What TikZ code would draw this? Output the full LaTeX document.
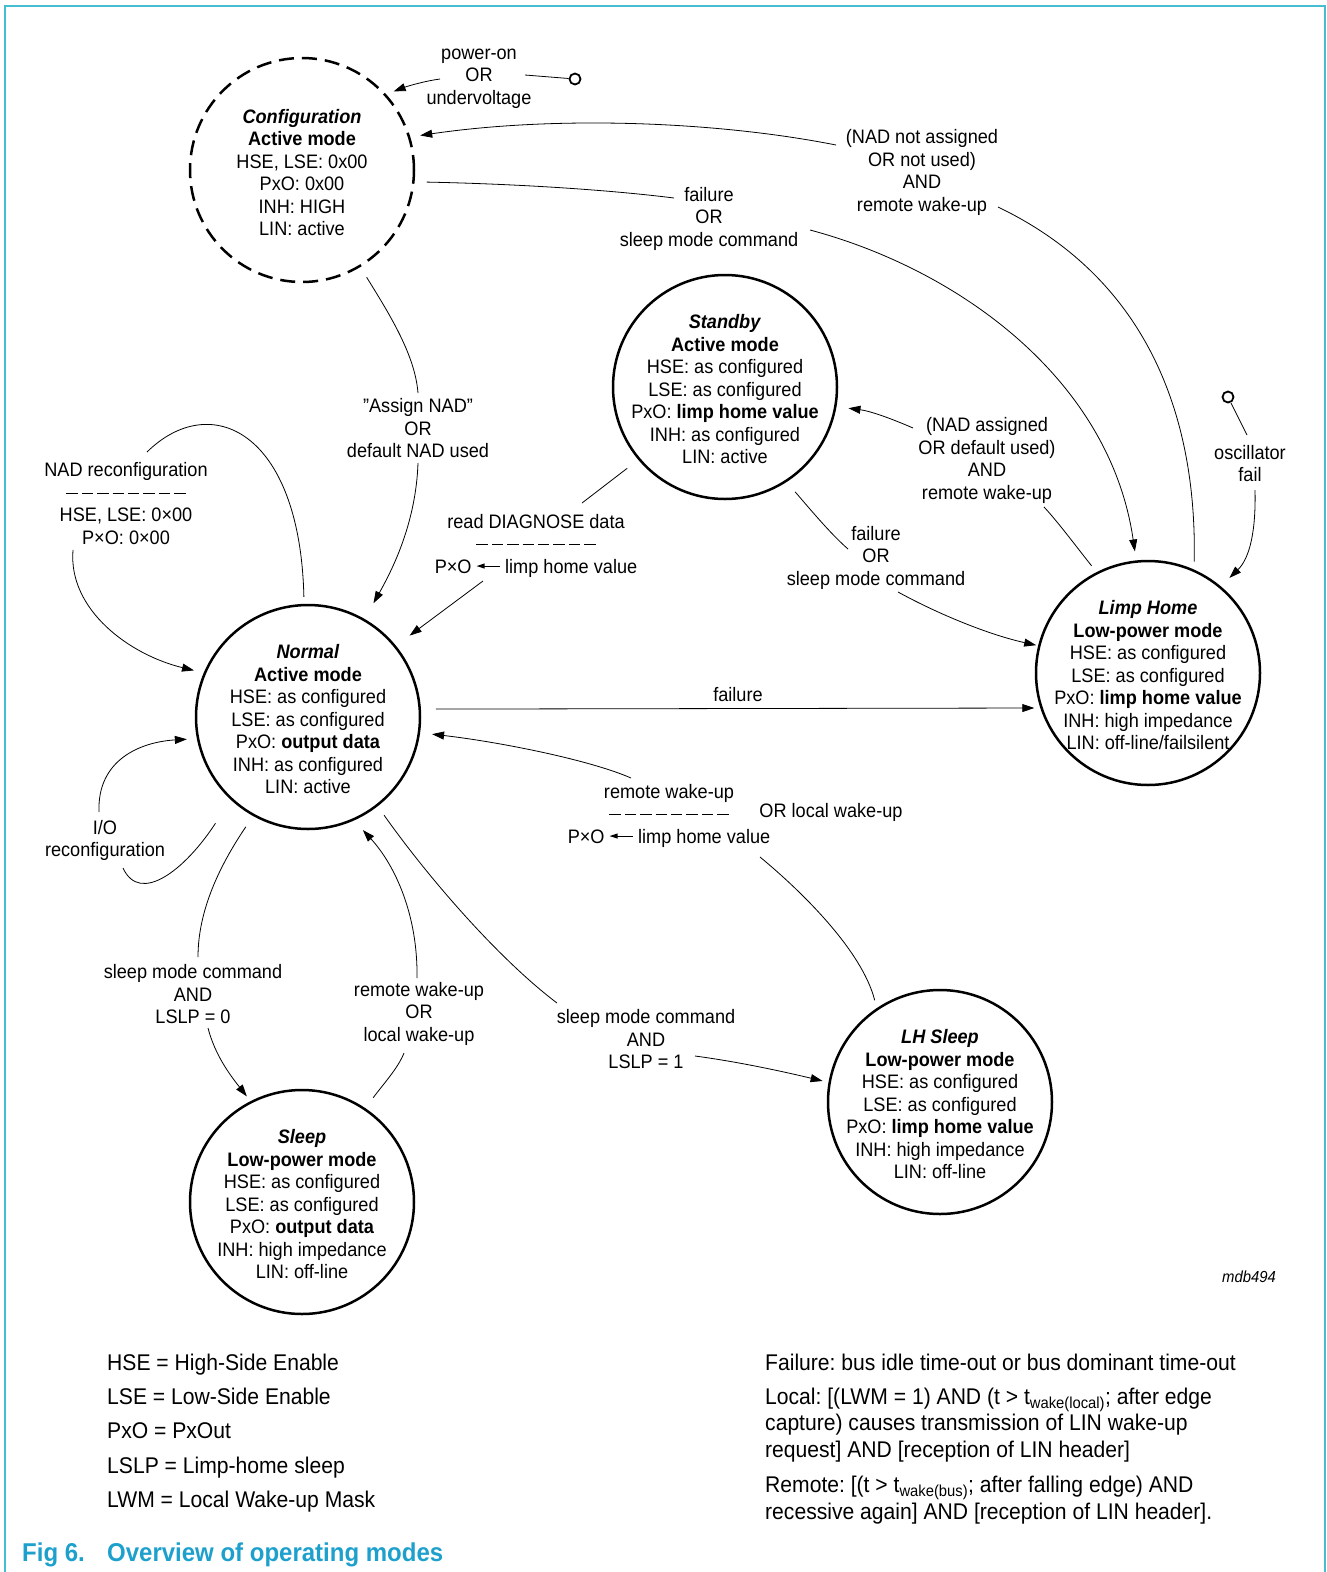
\documentclass[tikz,border=0pt]{standalone}
\usepackage{fontspec}
\setmainfont{Liberation Sans}[FakeStretch=0.93]
\usetikzlibrary{arrows.meta}
\definecolor{capblue}{RGB}{30,160,205}
\definecolor{framecol}{RGB}{70,190,210}
\frenchspacing
\newcommand\fs{\fontsize{19.5pt}{22.5pt}\selectfont}
\newcommand\lfs{\fontsize{22.7pt}{26pt}\selectfont}
\newcommand\dsh{\rule[0.27em]{11.5pt}{1pt}}
\newcommand\dashrow{\dsh\hspace{3.9pt}\dsh\hspace{3.9pt}\dsh\hspace{3.9pt}\dsh\hspace{3.9pt}\dsh\hspace{3.9pt}\dsh\hspace{3.9pt}\dsh\hspace{3.9pt}\dsh}
\newcommand\larr{\tikz[baseline=0pt]{\fill (0pt,7pt) -- (8pt,9.6pt) -- (8pt,4.4pt) -- cycle; \draw[line width=1.1pt] (7pt,7pt) -- (23pt,7pt);}}
\begin{document}
\begin{tikzpicture}[x=1pt,y=-1pt,
  state/.style={circle,draw,line width=2.5pt,minimum size=224pt,inner sep=0pt},
  cfgstate/.style={state,dash pattern=on 15pt off 8pt},
  txt/.style={align=center,font=\fs,inner sep=0pt,yshift=-2.5pt},
  conn/.style={line width=0.8pt},
  arr/.style={conn,-{Triangle[length=12pt,width=8pt]}},
  gapS/.style={shorten <=#1},
  gapE/.style={shorten >=#1},
  term/.style={circle,draw,line width=1.8pt,minimum size=11pt,inner sep=0pt},
  legend/.style={anchor=base west,inner sep=0pt,font=\lfs}
]
\useasboundingbox (0,0) rectangle (1327,1572);
\draw[framecol,line width=2pt] (5,1572) -- (5,6) -- (1325,6) -- (1325,1572);

% states
\node[cfgstate] (config) at (302,170) {};
\node[txt] (configtxt) at (302,170) {\textbf{\textit{Configuration}}\\\textbf{Active mode}\\HSE, LSE: 0x00\\PxO: 0x00\\INH: HIGH\\LIN: active};
\node[state] (standby) at (725,387) {};
\node[txt] (standbytxt) at (725,387) {\textbf{\textit{Standby}}\\\textbf{Active mode}\\HSE: as configured\\LSE: as configured\\PxO: \textbf{limp home value}\\INH: as configured\\LIN: active};
\node[state] (normal) at (308,717) {};
\node[txt] (normaltxt) at (308,717) {\textbf{\textit{Normal}}\\\textbf{Active mode}\\HSE: as configured\\LSE: as configured\\PxO: \textbf{output data}\\INH: as configured\\LIN: active};
\node[state] (limp) at (1148,673) {};
\node[txt] (limptxt) at (1148,673) {\textbf{\textit{Limp Home}}\\\textbf{Low-power mode}\\HSE: as configured\\LSE: as configured\\PxO: \textbf{limp home value}\\INH: high impedance\\LIN: off-line/failsilent};
\node[state] (lhsleep) at (940,1102) {};
\node[txt] (lhsleeptxt) at (940,1102) {\textbf{\textit{LH Sleep}}\\\textbf{Low-power mode}\\HSE: as configured\\LSE: as configured\\PxO: \textbf{limp home value}\\INH: high impedance\\LIN: off-line};
\node[state] (sleep) at (302,1202) {};
\node[txt] (sleeptxt) at (302,1202) {\textbf{\textit{Sleep}}\\\textbf{Low-power mode}\\HSE: as configured\\LSE: as configured\\PxO: \textbf{output data}\\INH: high impedance\\LIN: off-line};

% terminals
\node[term] (pwr) at (575,79) {};
\node[term] (osc) at (1228,397) {};

% labels
\node[txt] (lpwr) at (479,76) {power-on\\OR\\undervoltage};
\node[txt] (lnad) at (922,170) {(NAD not assigned\\OR not used)\\AND\\remote wake-up};
\node[txt] (lfos1) at (709,216) {failure\\OR\\sleep mode command};
\node[txt] (lasg) at (418,426) {"Assign NAD"\\OR\\default NAD used};
\node[txt] (lnas) at (987,458) {(NAD assigned\\OR default used)\\AND\\remote wake-up};
\node[txt] (lfos2) at (876,555) {failure\\OR\\sleep mode command};
\node[txt] (lrd) at (536,543) {read DIAGNOSE data\\\dashrow\\P×O \larr{} limp home value};
\node[txt] (lnadr) at (126,501) {NAD reconfiguration\\\dashrow\\HSE, LSE: 0×00\\P×O: 0×00};
\node[txt] (lio) at (105,838) {I/O\\reconfiguration};
\node[txt] (lfail) at (738,692) {failure};
\node[txt] (lrw) at (669,813) {remote wake-up\\\dashrow\\P×O \larr{} limp home value};
\node[txt] (lrwor) at (831,810) {OR local wake-up};
\node[txt] (lsl0) at (193,992) {sleep mode command\\AND\\LSLP = 0};
\node[txt] (lrwl) at (419,1011) {remote wake-up\\OR\\local wake-up};
\node[txt] (lsl1) at (646,1037) {sleep mode command\\AND\\LSLP = 1};
\node[txt] (losc) at (1250,461) {oscillator\\fail};
\node[inner sep=0pt,font=\fontsize{16pt}{18pt}\selectfont\itshape] (mdb) at (1249,1277) {mdb494};

% connector end coordinates
\coordinate (pwrA) at (525,75);
\coordinate (pwrB) at (440,79);
\coordinate (nadA) at (998,207);
\coordinate (nadB) at (836,145);
\coordinate (fosA) at (674,198);
\coordinate (fosB) at (810,230);
\coordinate (asgA) at (418,393);
\coordinate (asgB) at (418,463);
\coordinate (nasA) at (1044,507);
\coordinate (nasB) at (913,428);
\coordinate (fos2A) at (848,549);
\coordinate (fos2B) at (898,592);
\coordinate (rdA) at (582,503);
\coordinate (rdB) at (483,581);
\coordinate (nadrA) at (147,452);
\coordinate (nadrB) at (73,550);
\coordinate (ioA) at (123,868);
\coordinate (ioB) at (99,812);
\coordinate (rwA) at (760,857);
\coordinate (rwB) at (631,778);
\coordinate (sl0A) at (198,957);
\coordinate (sl0B) at (208,1028);
\coordinate (rwlA) at (404,1053);
\coordinate (rwlB) at (417,978);
\coordinate (sl1A) at (557,1003);
\coordinate (sl1B) at (695,1056);
\coordinate (oscA) at (1247,435);
\coordinate (oscB) at (1255,490);

% connectors
\draw[conn] (pwr) -- (pwrA);
\draw[arr,gapE=8pt] (pwrB) .. controls (425,81) and (408,86) .. (config.42);

\draw[conn,gapS=8pt] (limp.66) .. controls (1197,420) and (1150,280) .. (nadA);
\draw[arr,gapE=10pt] (nadB) .. controls (720,122) and (560,115) .. (config.17);

\draw[conn,gapS=12pt] (config.-6) .. controls (520,184) and (610,190) .. (fosA);
\draw[arr,gapE=9pt] (fosB) .. controls (960,270) and (1110,380) .. (limp.96);

\draw[conn,gapS=12pt] (config.-59) .. controls (390,315) and (415,355) .. (asgA);
\draw[arr,gapE=18pt] (asgB) .. controls (416,520) and (395,565) .. (normal.60);

\draw[conn,gapS=8pt] (limp.117) .. controls (1075,545) and (1058,522) .. (nasA);
\draw[arr,gapE=12pt] (nasB) .. controls (890,418) and (870,411) .. (standby.-10);

\draw[conn,gapS=13pt] (standby.-57) .. controls (815,515) and (832,535) .. (fos2A);
\draw[arr,gapE=2pt] (fos2B) .. controls (940,615) and (990,635) .. (limp.166);

\draw[conn,gapS=14pt] (standby.220) -- (rdA);
\draw[arr,gapE=17pt] (rdB) -- (normal.39);

\draw[conn,gapS=7pt] (normal.92) .. controls (300,430) and (210,390) .. (nadrA);
\draw[arr,gapE=10pt] (nadrB) .. controls (68,610) and (130,655) .. (normal.157);

\draw[conn,gapS=28pt] (normal.227) .. controls (185,870) and (140,905) .. (ioA);
\draw[arr,gapE=10pt] (ioB) .. controls (97,760) and (140,742) .. (normal.191);

\draw[arr,gapS=15pt,gapE=6pt] (normal.4.5) -- (limp.198);

\draw[conn,gapS=8pt] (lhsleep.124) .. controls (862,950) and (800,890) .. (rwA);
\draw[arr,gapE=12pt] (rwB) .. controls (590,760) and (500,742) .. (normal.-8);

\draw[conn,gapS=13pt] (normal.241) .. controls (220,865) and (198,910) .. (sl0A);
\draw[arr,gapE=6pt] (sl0B) .. controls (215,1055) and (230,1075) .. (sleep.117);

\draw[conn,gapS=13pt] (sleep.56) .. controls (385,1082) and (398,1068) .. (rwlA);
\draw[arr,gapE=13pt] (rwlB) .. controls (418,915) and (395,865) .. (normal.-66);

\draw[conn,gapS=11pt] (normal.-52) .. controls (430,880) and (500,960) .. (sl1A);
\draw[arr,gapE=6pt] (sl1B) .. controls (740,1062) and (785,1072) .. (lhsleep.170);

\draw[conn] (osc) -- (oscA);
\draw[arr,gapE=12pt] (oscB) .. controls (1256,530) and (1250,558) .. (limp.50);

% legend
\node[legend] (lg1) at (107,1370) {HSE = High-Side Enable};
\node[legend] (lg2) at (107,1404) {LSE = Low-Side Enable};
\node[legend] (lg3) at (107,1438) {PxO = PxOut};
\node[legend] (lg4) at (107,1473) {LSLP = Limp-home sleep};
\node[legend] (lg5) at (107,1507) {LWM = Local Wake-up Mask};
\node[legend] (rg1) at (765,1370) {Failure: bus idle time-out or bus dominant time-out};
\node[legend] (rg2) at (765,1404) {Local: [(LWM = 1) AND (t > t\textsubscript{wake(local)}; after edge};
\node[legend] (rg3) at (765,1430) {capture) causes transmission of LIN wake-up};
\node[legend] (rg4) at (765,1457) {request] AND [reception of LIN header]};
\node[legend] (rg5) at (765,1492) {Remote: [(t > t\textsubscript{wake(bus)}; after falling edge) AND};
\node[legend] (rg6) at (765,1519) {recessive again] AND [reception of LIN header].};
\node[anchor=base west,inner sep=0pt,font=\fontsize{25.8pt}{30pt}\selectfont\bfseries,text=capblue] (cap1) at (22,1561) {Fig 6.};
\node[anchor=base west,inner sep=0pt,font=\fontsize{25.8pt}{30pt}\selectfont\bfseries,text=capblue] (cap2) at (107,1561) {Overview of operating modes};
\end{tikzpicture}
\end{document}
